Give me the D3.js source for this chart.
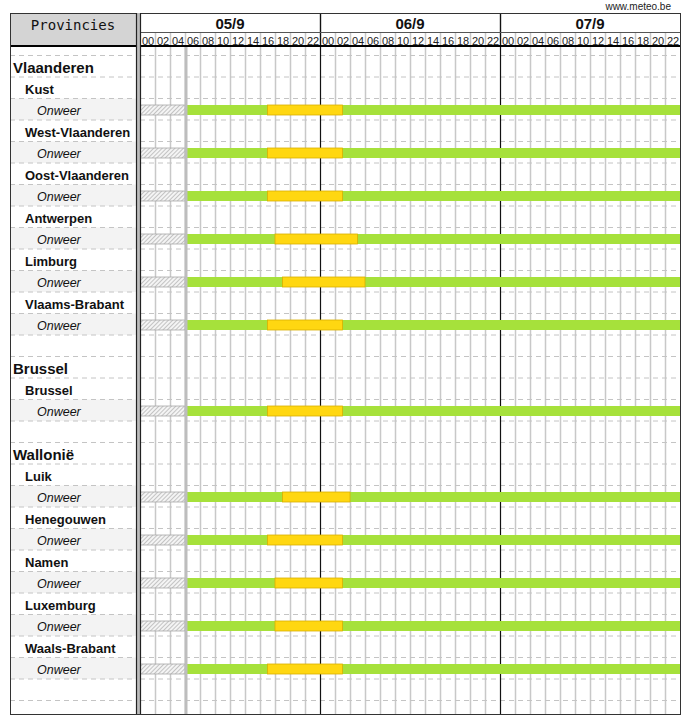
<!DOCTYPE html>
<html><head><meta charset="utf-8">
<script src="https://cdn.jsdelivr.net/npm/d3@7/dist/d3.min.js"></script>
<style>body{margin:0;background:#fff}svg{display:block}</style>
</head><body>
<script>
// ---- data ----
const regions = ["Vlaanderen", "Brussel", "Wallonië"];
const provinces = ["Kust","West-Vlaanderen","Oost-Vlaanderen","Antwerpen","Limburg","Vlaams-Brabant",
                   "Brussel","Luik","Henegouwen","Namen","Luxemburg","Waals-Brabant"];
const provinceRegion = [0,0,0,0,0,0,1,2,2,2,2,2];
const eventLabel = "Onweer";
// warning (yellow) periods, hours counted from 05/9 00:00
const warnStart = [17,17,17,18,19,17,17,19,17,18,18,17];
const warnEnd   = [27,27,27,29,30,27,27,28,27,27,27,27];
const dates = ["05/9","06/9","07/9"];
const hourLabels = ["00","02","04","06","08","10","12","14","16","18","20","22"];
const nowHour = 6;
const totalHours = 72;

// ---- build rows ----
const rows = [];
regions.forEach((r, ri) => {
  rows.push({type:"region", label:r});
  provinces.forEach((p, pi) => {
    if (provinceRegion[pi] !== ri) return;
    rows.push({type:"province", label:p});
    rows.push({type:"event", label:eventLabel, pi});
  });
  rows.push({type:"blank", label:""});
});

const W = 694, H = 724;
const L0 = 10, L1 = 136, C0 = 140, C1 = 680;
const T0 = 13, T1 = 32, T2 = 46, B = 714;
const rowTop0 = 55.5, rowH = 21.5;

const svg = d3.select("body").append("svg").attr("width", W).attr("height", H);
const x = d3.scaleLinear().domain([0, totalHours]).range([C0, C1]);
const y = d3.scaleBand().domain(d3.range(rows.length))
  .range([rowTop0, rowTop0 + rowH * rows.length]).paddingInner(0).paddingOuter(0);

// hatch pattern
const defs = svg.append("defs");
const pat = defs.append("pattern").attr("id","hatch").attr("patternUnits","userSpaceOnUse")
  .attr("width",3).attr("height",3).attr("patternTransform","rotate(45)");
pat.append("rect").attr("width",3).attr("height",3).attr("fill","#f4f4f4");
pat.append("line").attr("x1",0).attr("y1",0).attr("x2",0).attr("y2",3)
  .attr("stroke","#9a9a9a").attr("stroke-width",1.1);

// left panel event row backgrounds
svg.append("g").selectAll("rect").data(rows.map((r,i)=>({r,i})).filter(d=>d.r.type==="event"))
  .join("rect").attr("x", L0).attr("y", d=>y(d.i)).attr("width", L1-L0).attr("height", rowH)
  .attr("fill","#f3f3f3");

// vertical grid lines (2-hourly) in body
const slotTicks = d3.range(2, totalHours, 2).filter(h => h % 24 !== 0);
svg.append("g").selectAll("line").data(slotTicks).join("line")
  .attr("x1", d=>x(d)+0.5).attr("x2", d=>x(d)+0.5).attr("y1", T1).attr("y2", B)
  .attr("stroke", "#c8c8c8").attr("stroke-width", 1.5);

// horizontal dashed lines
const hLines = d3.range(rows.length + 1).map(i => rowTop0 + i * rowH);
const hg = svg.append("g");
[[L0, L1], [C0, C1]].forEach(([a, b]) => {
  hg.append("g").selectAll("line").data(hLines).join("line")
    .attr("x1", a).attr("x2", b).attr("y1", d=>d).attr("y2", d=>d)
    .attr("stroke", "#c4c4c4").attr("stroke-width", 1).attr("stroke-dasharray", "5,4");
});

// day lines (under bars)
svg.append("g").selectAll("line").data([24, 48]).join("line")
  .attr("x1", d=>x(d)+0.5).attr("x2", d=>x(d)+0.5).attr("y1", T0).attr("y2", B)
  .attr("stroke","#111").attr("stroke-width",1.2);

// bars
const evRows = rows.map((r,i)=>({r,i})).filter(d=>d.r.type==="event");
const barOff = 6.5, barH = 10;
const bars = svg.append("g");
bars.selectAll(".hatch").data(evRows).join("rect").attr("class","hatch")
  .attr("x", x(0)+0.5).attr("y", d=>y(d.i)+barOff).attr("width", x(nowHour)-x(0)-0.5).attr("height", barH)
  .attr("fill","url(#hatch)").attr("stroke","#a8a8a8").attr("stroke-width",0.8);
bars.selectAll(".green").data(evRows).join("rect").attr("class","green")
  .attr("x", x(nowHour)).attr("y", d=>y(d.i)+barOff).attr("width", x(totalHours)-x(nowHour)).attr("height", barH)
  .attr("fill","#a6e13b");
bars.selectAll(".yellow").data(evRows).join("rect").attr("class","yellow")
  .attr("x", d=>x(warnStart[d.r.pi])).attr("y", d=>y(d.i)+barOff)
  .attr("width", d=>x(warnEnd[d.r.pi]) - x(warnStart[d.r.pi])).attr("height", barH)
  .attr("fill","#ffd711").attr("stroke","#d9b000").attr("stroke-width",0.8);

// now line
svg.append("line").attr("x1", x(nowHour)+1).attr("x2", x(nowHour)+1).attr("y1", T2).attr("y2", B)
  .attr("stroke","#bdbdbd").attr("stroke-width",3);

// day lines in header
svg.append("g").selectAll("line").data([24, 48]).join("line")
  .attr("x1", d=>x(d)+0.5).attr("x2", d=>x(d)+0.5).attr("y1", T0).attr("y2", T2)
  .attr("stroke","#111").attr("stroke-width",1.2);

// header
svg.append("rect").attr("x", L0+0.5).attr("y", T0+0.5).attr("width", L1-L0).attr("height", T2-T0)
  .attr("fill","#d4d4d4").attr("stroke","#333").attr("stroke-width",1);
svg.append("text").attr("x", (L0+L1)/2).attr("y", 30).attr("text-anchor","middle")
  .attr("font-family","'DejaVu Sans Mono', monospace").attr("font-size",14).attr("fill","#111")
  .text("Provincies");

svg.append("line").attr("x1", C0).attr("x2", C1).attr("y1", T0+0.5).attr("y2", T0+0.5).attr("stroke","#333");
svg.append("line").attr("x1", C0).attr("x2", C1).attr("y1", T1+0.5).attr("y2", T1+0.5).attr("stroke","#555");

svg.append("g").selectAll("text").data(dates).join("text")
  .attr("x", (d,i)=>x(i*24+12)).attr("y", 29).attr("text-anchor","middle")
  .attr("font-family","'Liberation Sans', Arial, sans-serif").attr("font-weight","bold").attr("font-size",15)
  .attr("fill","#111").text(d=>d);

const hourSlots = d3.range(0, totalHours, 2);
svg.append("g").selectAll("text").data(hourSlots).join("text")
  .attr("x", d=>x(d+1)+0.5).attr("y", 44.5).attr("text-anchor","middle")
  .attr("font-family","'Liberation Sans', Arial, sans-serif").attr("font-size",11).attr("fill","#222")
  .text(d=>hourLabels[(d % 24) / 2]);

// thick line under header
svg.append("line").attr("x1", L0).attr("x2", C1+0.5).attr("y1", T2).attr("y2", T2)
  .attr("stroke","#000").attr("stroke-width",2.2);

// panel borders
svg.append("rect").attr("x", L1).attr("y", T0).attr("width", C0-L1).attr("height", B-T0).attr("fill","#bcbcbc");
[L1, C0].forEach(v => svg.append("line").attr("x1", v+0.5).attr("x2", v+0.5).attr("y1", T0).attr("y2", B)
  .attr("stroke","#222").attr("stroke-width",1.2));
svg.append("line").attr("x1", L0+0.5).attr("x2", L0+0.5).attr("y1", T0).attr("y2", B).attr("stroke","#333");
svg.append("line").attr("x1", C1+0.5).attr("x2", C1+0.5).attr("y1", T0).attr("y2", B).attr("stroke","#333");
svg.append("line").attr("x1", L0).attr("x2", C1+1).attr("y1", B+0.5).attr("y2", B+0.5).attr("stroke","#333");

// row labels
const labelG = svg.append("g").attr("font-family","'Liberation Sans', Arial, sans-serif").attr("fill","#111");
const cfg = {
  region:   {x:13, size:15, weight:"bold", style:"normal", dy:6.5},
  province: {x:25, size:13, weight:"bold", style:"normal", dy:6},
  event:    {x:37, size:12.5, weight:"normal", style:"italic", dy:5.5}
};
labelG.selectAll("text").data(rows.map((r,i)=>({r,i})).filter(d=>d.r.type!=="blank")).join("text")
  .attr("x", d=>cfg[d.r.type].x)
  .attr("y", d=>y(d.i) + rowH/2 + cfg[d.r.type].dy)
  .attr("font-size", d=>cfg[d.r.type].size)
  .attr("font-weight", d=>cfg[d.r.type].weight)
  .attr("font-style", d=>cfg[d.r.type].style)
  .text(d=>d.r.label);

// source
svg.append("text").attr("x", 671).attr("y", 10).attr("text-anchor","end")
  .attr("font-family","'Liberation Sans', Arial, sans-serif").attr("font-size",10).attr("fill","#222")
  .text("www.meteo.be");
</script>
</body></html>
